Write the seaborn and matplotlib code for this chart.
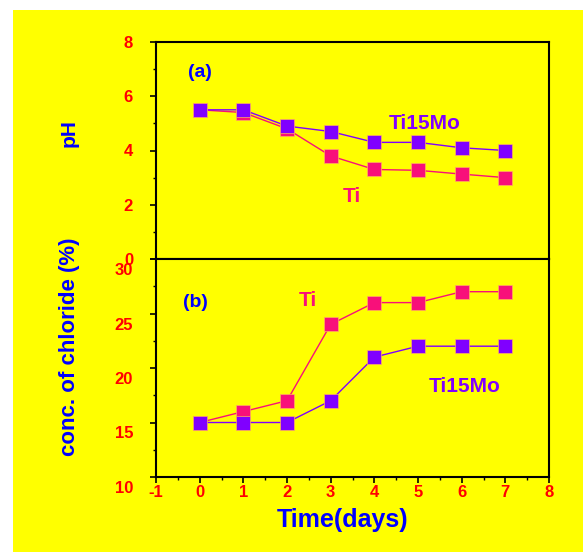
import matplotlib
matplotlib.use("Agg")
import matplotlib.pyplot as plt
import matplotlib.transforms as mtransforms
from matplotlib.patches import Rectangle
from matplotlib.ticker import MultipleLocator
import seaborn as sns
import pandas as pd

# ---- data ----
days = [0, 1, 2, 3, 4, 5, 6, 7]
ph_ti = [5.5, 5.4, 4.8, 3.8, 3.3, 3.27, 3.13, 3.0]
ph_ti15mo = [5.5, 5.5, 4.9, 4.7, 4.3, 4.3, 4.1, 4.0]
cl_ti = [15, 16, 17, 24, 26, 26, 27, 27]
cl_ti15mo = [15, 15, 15, 17, 21, 22, 22, 22]
ph_ticks = [0, 2, 4, 6, 8]
cl_ticks = [10, 15, 20, 25, 30]
x_ticks = [-1, 0, 1, 2, 3, 4, 5, 6, 7, 8]

sns.set_theme(style="ticks")
plt.rcParams['font.family'] = ['Liberation Sans', 'DejaVu Sans']

YELLOW = "#FFFF00"
PINK = "#F8107A"
PURPLE = "#8000FF"
RED = "#FF0000"
BLUE = "#0000FF"

W, H = 583, 552
fig = plt.figure(figsize=(W / 100, H / 100), dpi=100)
fig.patch.set_facecolor("white")
bg = Rectangle((13 / W, 0), 1, 1 - 10 / H, transform=fig.transFigure,
               facecolor=YELLOW, edgecolor="none", zorder=-10)
fig.add_artist(bg)

left = 156 / W
width = (549 - 156) / W
top1, bot1 = 1 - 42 / H, 1 - 259 / H
top2, bot2 = 1 - 259 / H, 1 - 477 / H
ax1 = fig.add_axes([left, bot1, width, top1 - bot1])
ax2 = fig.add_axes([left, bot2, width, top2 - bot2])

df_ph = pd.DataFrame({"day": days * 2, "val": ph_ti + ph_ti15mo,
                      "alloy": ["Ti"] * 8 + ["Ti15Mo"] * 8})
df_cl = pd.DataFrame({"day": days * 2, "val": cl_ti + cl_ti15mo,
                      "alloy": ["Ti"] * 8 + ["Ti15Mo"] * 8})

pal = {"Ti": PINK, "Ti15Mo": PURPLE}
for ax, df in ((ax1, df_ph), (ax2, df_cl)):
    sns.lineplot(data=df, x="day", y="val", hue="alloy", palette=pal, ax=ax,
                 marker="s", markersize=9.5, linewidth=1.0,
                 markeredgecolor="#FFB060", markeredgewidth=0.5, legend=False)
    ax.set_facecolor(YELLOW)
    ax.set_xlim(-1, 8)
    ax.set_xticks(x_ticks)
    ax.xaxis.set_minor_locator(MultipleLocator(0.5))
    ax.set_xlabel("")
    ax.set_ylabel("")
    for s in ax.spines.values():
        s.set_color("black")
        s.set_linewidth(1.5)
    ax.tick_params(which="major", direction="out", length=4, width=1.2, color="black",
                   labelcolor=RED, labelsize=12, pad=2)
    ax.tick_params(which="minor", direction="out", length=2.5, width=1.0, color="black")
    ax.tick_params(axis="y", pad=12.5)

ax1.set_ylim(0, 8)
ax1.set_yticks(ph_ticks)
ax1.yaxis.set_minor_locator(MultipleLocator(1))
ax1.tick_params(axis="x", labelbottom=False)
ax1.set_yticklabels([str(v) for v in ph_ticks], fontweight="bold")

ax2.set_ylim(10, 30)
ax2.set_yticks(cl_ticks)
ax2.yaxis.set_minor_locator(MultipleLocator(2.5))
ax2.set_yticklabels([str(v) for v in cl_ticks], fontweight="bold")
ax2.set_xticklabels([str(v) for v in x_ticks], fontweight="bold")
offset = mtransforms.ScaledTranslation(0, -10 / 100, fig.dpi_scale_trans)
for lab in ax2.get_yticklabels():
    lab.set_transform(lab.get_transform() + offset)

# annotations
ax1.text(0.0, 6.86, "(a)", color=BLUE, fontsize=14, fontweight="bold", ha="center", va="center")
ax1.text(5.16, 4.98, "Ti15Mo", color=PURPLE, fontsize=15, fontweight="bold", ha="center", va="center")
ax1.text(3.49, 2.29, "Ti", color=PINK, fontsize=15, fontweight="bold", ha="center", va="center")
ax2.text(-0.1, 26.0, "(b)", color=BLUE, fontsize=14, fontweight="bold", ha="center", va="center")
ax2.text(2.48, 26.2, "Ti", color=PINK, fontsize=15, fontweight="bold", ha="center", va="center")
ax2.text(6.07, 18.3, "Ti15Mo", color=PURPLE, fontsize=15, fontweight="bold", ha="center", va="center")

fig.text(69 / W, 1 - 133 / H, "pH", color=BLUE, fontsize=15, fontweight="bold",
         rotation=90, ha="center", va="center")
fig.text(69 / W, 1 - 347 / H, "conc. of chloride (%)", color=BLUE, fontsize=16,
         fontweight="bold", rotation=90, ha="center", va="center")
fig.text(343 / W, 1 - 520 / H, "Time(days)", color=BLUE, fontsize=18, fontweight="bold",
         ha="center", va="center")

fig.savefig("out.png", dpi=100, facecolor="white")
